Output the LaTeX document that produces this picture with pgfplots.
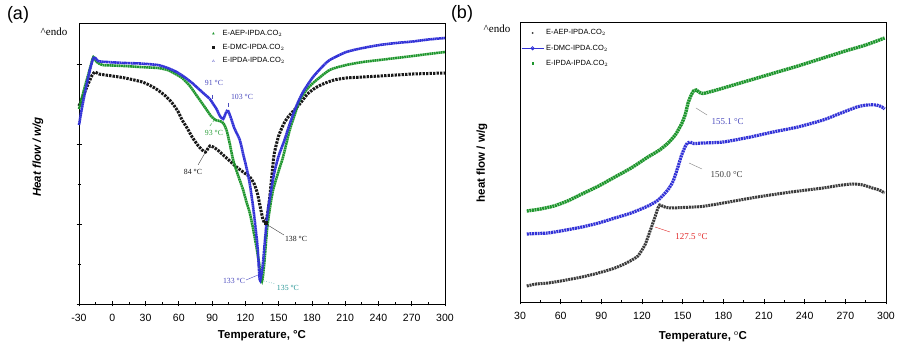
\documentclass[border=0pt]{standalone}
\usepackage{pgfplots}
\pgfplotsset{compat=1.18}
\usepackage{pgfplotstable}
\usepackage{fontspec}
\setmainfont{Liberation Serif}
\setsansfont{Liberation Sans}
\newfontfamily\arial{Liberation Sans}

\definecolor{cblue}{RGB}{50,50,215}
\definecolor{cgreen}{RGB}{30,150,45}
\definecolor{cblack}{RGB}{25,25,25}
\definecolor{cgrey}{RGB}{60,60,60}
\definecolor{lblue}{RGB}{75,75,190}
\definecolor{lgreen}{RGB}{45,160,60}
\definecolor{lteal}{RGB}{40,150,150}
\definecolor{lred}{RGB}{225,40,40}
\definecolor{lav}{RGB}{150,150,220}

% ---------- panel (a): heating scans ----------
\pgfplotstableread{
T y
-30 195
-26 212
-22 228
-19 240
-17 247
-14 242
-9 239
0 238.5
11 238
25 237
41 236
50 234
57 230
63 226
70 218
77 207
84 196
89 188
93 184
97 183
100 181
103 174
106 160
109 144
113 130
118 114
121 102
124 91
127 75
130 57
132.5 40
135 23
137 40
139.5 74
142 95
145 114
150 133
154 147
160 174
165 191
169 204
175 214
181 221
196 234
211 239
226 242
241 244
256 246
271 248
285 250
300 252
}\aAEP

\pgfplotstableread{
T y
-30 198
-27 206
-24 214
-21 222
-18 229
-15.6 232
-12 230
-6 229
0 228
11.5 226
27 222
35 218
41 214
48 208
54 201
59 193
63 184
68 175
72 167
77 159
81 154
84 152
86 155
88 158
91 157
95 154
100 149
106 143
112 137
118 132
124 127
128 120
131 110
134 94
136 84
138 81
140 90
142 107
144 130
146 150
150 168
155 181
160 189
169 200
176 210
183 216
190 220
200 224
211 226
226 227
241 228
256 229
271 230
285 230.5
300 231
}\aDMC

\pgfplotstableread{
T y
-30 179
-27 198
-24 215
-21 230
-18 243
-16 247
-13 243
-5 242
11 241
25 240.5
41 239
50 236
58 232
65 227
72 221
78 215
83 210
88 205
91 200
94 195
97 188
100 185
102 190
104 194
107 186
110 176
115 164
118 150
121.5 134
124 120
127 97
129 78
131 57
133 24
134.5 30
136 42
138 68
140 91
143 112
146 131
150 148
155 163
160 180
166 198
172 212
181 227
190 238
196 244
211 252
226 256
241 259
256 261
271 262.5
285 264.5
300 266
}\aIPDA

% ---------- panel (b): second heating, Tg region ----------
\pgfplotstableread{
T y
35 16
42 18
50.7 19
60 21
68 23
75.7 25
85 28
93 31
100 34
107 38
112.6 42
117 46
120 52
122.5 58
124.4 65
127 75
129.6 85
131.5 93
133 97
135 96
138 94.5
142 94
150 94.5
164 95.5
180 99
205 105
230 110
253.6 114
265 116.5
275.6 118
283 117
290 114
295 112
299 109
}\bAEP

\pgfplotstableread{
T y
35 68
42 68.5
50.7 69
62 71.5
75.7 75
88 79
100 84
112 89
124.4 96
132 102
139 112
143 121
146.5 135
149 146
151.7 155
153.5 159
155.4 160
158 158.5
165 159
180 160
200 165
216.6 170
235 175
253.6 182
265 188
278.6 195
286 197
293 197
297 195
299 193
}\bDMC

\pgfplotstableread{
T y
35 91
45 93
55 96
65 101
75.7 108
88 116
100 125
112 134
124.4 145
133 152
140 160
145 168
149.5 179
152 188
154 199
156 206
158 211
160 212
162 210
165 208.5
175 212
190 218
205 224
220 230
235 236
253.6 244
270 251
285 257
299 264
}\bIPDA

\newcommand{\anno}{\fontsize{7.8}{8}\selectfont}
\newcommand{\annob}{\fontsize{9}{10}\selectfont}

\pgfplotsset{
  dscpanel/.style={
    scale only axis,
    anchor=south west,
    clip=false,
    axis line style={black, line width=0.8pt},
    tick align=center,
    major tick length=5pt,
    minor tick length=3pt,
    every tick/.style={black, line width=0.7pt},
    minor x tick num=1,
    xtick pos=bottom,
    ytick pos=left,
    tick label style={font=\arial\fontsize{10.5}{11}\selectfont},
    xticklabel style={yshift=-4pt},
    legend cell align=left,
  },
}

\begin{document}
\begin{tikzpicture}[x=1pt,y=1pt]
\path[use as bounding box] (0,0) rectangle (898,348);

% ===== (a) =====
\begin{axis}[dscpanel,
  at={(79pt,44pt)}, width=366pt, height=281pt,
  xmin=-30, xmax=300, ymin=0, ymax=281,
  xtick={-30,0,30,60,90,120,150,180,210,240,270,300},
  xticklabels={-30,0,30,60,90,120,150,180,210,240,270,300},
  ytick={0,80,160,240}, minor ytick={40,120,200}, yticklabels={},
  legend style={at={(axis description cs:0.347,0.982)}, anchor=north west,
    draw=none, fill=none, inner sep=0pt, row sep=3pt,
    font=\arial\fontsize{7.5}{8}\selectfont},
  legend image code/.code={\path (0pt,0pt) (14pt,0pt);
    \draw[mark repeat=2,mark phase=2,#1] plot coordinates {(0pt,0pt) (7pt,0pt) (14pt,0pt)};},
]
\addlegendimage{only marks, mark=triangle*, mark size=1pt, cgreen}
\addlegendentry{E-AEP-IPDA.CO$_2$}
\addlegendimage{only marks, mark=square*, mark size=0.8pt, cblack}
\addlegendentry{E-DMC-IPDA.CO$_2$}
\addlegendimage{only marks, mark=triangle, mark size=1.3pt, lav}
\addlegendentry{E-IPDA-IPDA.CO$_2$}

\addplot[forget plot, cblack, line width=3pt, dash pattern=on 2.4pt off 1.1pt, smooth, tension=0.4] table {\aDMC};
\addplot[forget plot, cgreen, line width=2.6pt, dash pattern=on 1.8pt off 0.5pt, smooth, tension=0.4] table {\aAEP};
\addplot[forget plot, cblue, line width=2.6pt, dash pattern=on 1.8pt off 0.4pt, smooth, tension=0.4] table {\aIPDA};
\addplot[forget plot, only marks, mark=square*, mark size=1.5pt, cblack] coordinates {(138,81)};

% peak annotations
\node[font=\anno, text=lblue] at (axis cs:91.7,221) {91 °C};
\draw[lblue, line width=0.5pt] (axis cs:90,209) -- (axis cs:90,205);
\node[font=\anno, text=lblue] at (axis cs:117,207) {103 °C};
\draw[lblue, line width=0.5pt] (axis cs:105,201) -- (axis cs:105,197);
\node[font=\anno, text=lgreen] at (axis cs:91.7,171) {93 °C};
\draw[lgreen, line width=0.4pt, densely dashed] (axis cs:88,178) -- (axis cs:92.6,185);
\node[font=\anno, text=cblack] at (axis cs:72.8,132) {84 °C};
\draw[cgrey, line width=0.4pt] (axis cs:77.3,139) -- (axis cs:83.6,151);
\node[font=\anno, text=cblack] at (axis cs:165.7,65) {138 °C};
\draw[cgrey, line width=0.4pt] (axis cs:138.6,80) -- (axis cs:154.8,69);
\node[font=\anno, text=lblue] at (axis cs:109.8,23) {133 °C};
\draw[lblue, line width=0.4pt] (axis cs:120.6,24) -- (axis cs:131.4,29);
\node[font=\anno, text=lteal] at (axis cs:158.4,16) {135 °C};
\draw[lteal, line width=0.5pt, dotted] (axis cs:136.8,23) -- (axis cs:147.6,20);
\end{axis}

% ===== (b) =====
\begin{axis}[dscpanel,
  at={(520pt,46pt)}, width=366pt, height=280pt,
  xmin=30, xmax=300, ymin=0, ymax=280,
  xtick={30,60,90,120,150,180,210,240,270,300},
  xticklabels={30,60,90,120,150,180,210,240,270,300},
  ytick=\empty,
  legend style={at={(axis description cs:0.0,0.984)}, anchor=north west,
    draw=none, fill=none, inner sep=1pt, row sep=4.5pt,
    font=\arial\fontsize{7.5}{8}\selectfont},
  legend image code/.code={\path (0pt,0pt) (22pt,0pt);
    \draw[mark repeat=2,mark phase=2,#1] plot coordinates {(0pt,0pt) (11pt,0pt) (22pt,0pt)};},
]
\addlegendimage{only marks, mark=*, mark size=0.7pt, cgrey}
\addlegendentry{E-AEP-IPDA.CO$_2$}
\addlegendimage{cblue, line width=0.8pt, mark=o, mark size=1.6pt, mark options={solid, fill=white}}
\addlegendentry{E-DMC-IPDA.CO$_2$}
\addlegendimage{only marks, mark=square*, mark size=0.9pt, cgreen}
\addlegendentry{E-IPDA-IPDA.CO$_2$}

\addplot[forget plot, cgrey, line width=3pt, dash pattern=on 2pt off 0.8pt, smooth, tension=0.4] table {\bAEP};
\addplot[forget plot, cblue, line width=3.2pt, dash pattern=on 2pt off 0.7pt, smooth, tension=0.4] table {\bDMC};
\addplot[forget plot, cgreen, line width=3.4pt, dash pattern=on 2pt off 0.6pt, smooth, tension=0.4] table {\bIPDA};

% glass transition annotations
\node[font=\annob, text=lblue, anchor=west] at (axis cs:168.7,180) {155.1 °C};
\draw[gray, line width=0.4pt] (axis cs:159.8,194) -- (axis cs:168,187);
\node[font=\annob, text=cgrey, anchor=west] at (axis cs:168,127) {150.0 °C};
\draw[gray, line width=0.4pt] (axis cs:154.7,139) -- (axis cs:164.3,133);
\node[font=\annob, text=lred, anchor=west] at (axis cs:142.1,65) {127.5 °C};
\draw[lred, line width=0.4pt] (axis cs:129.6,75) -- (axis cs:140.7,70);
\end{axis}

% panel tags and axis titles
\node[font=\arial\fontsize{18}{20}\selectfont] at (18,333) {(a)};
\node[font=\arial\fontsize{18}{20}\selectfont] at (462,334) {(b)};
\node[font=\fontsize{11}{12}\selectfont] at (54,316) {\textasciicircum endo};
\node[font=\fontsize{11}{12}\selectfont] at (497,319) {\textasciicircum endo};
\node[font=\arial\bfseries\itshape\fontsize{11.5}{12}\selectfont, rotate=90] at (38,191) {Heat flow / w/g};
\node[font=\arial\bfseries\fontsize{11.5}{12}\selectfont, rotate=90] at (482,185) {heat flow / w/g};
\node[font=\arial\bfseries\fontsize{11.5}{12}\selectfont] at (262,12) {Temperature, °C};
\node[font=\arial\bfseries\fontsize{11.5}{12}\selectfont] at (703,11) {Temperature, $^{\mathrm{o}}$C};
\end{tikzpicture}
\end{document}
